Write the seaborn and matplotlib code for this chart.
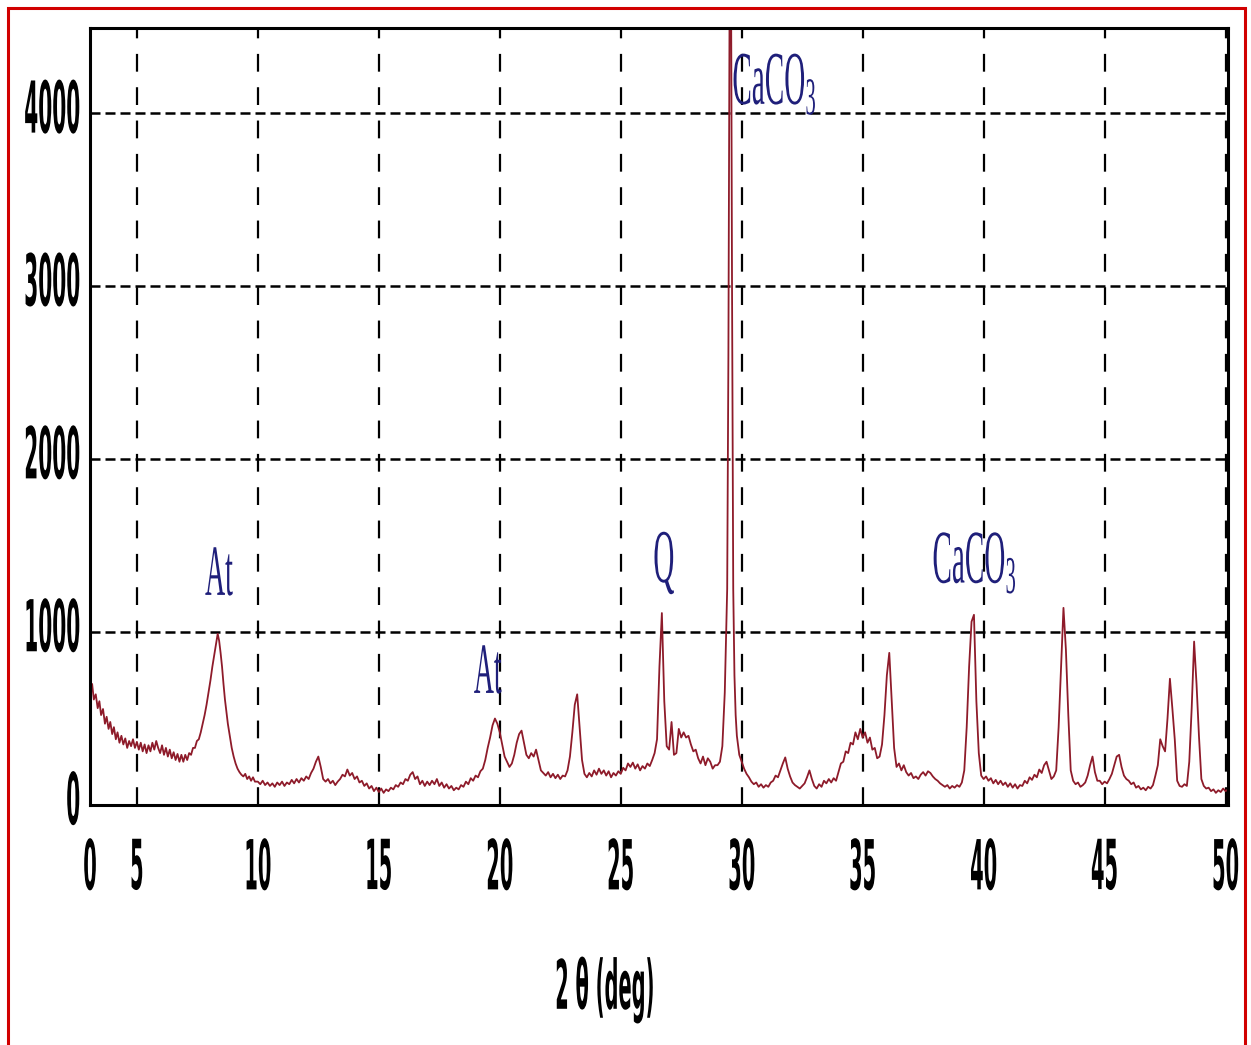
import pandas as pd
import seaborn as sns
import matplotlib.pyplot as plt
from matplotlib import patheffects
from matplotlib.transforms import Affine2D
from matplotlib.patches import Rectangle

# XRD pattern: 2-theta (deg) and intensity (counts)
two_theta = [
    3.00, 3.08, 3.15, 3.22, 3.30, 3.38, 3.45, 3.52, 3.60, 3.68,
    3.75, 3.83, 3.90, 3.98, 4.05, 4.13, 4.20, 4.28, 4.36, 4.44,
    4.52, 4.60, 4.68, 4.76, 4.84, 4.92, 5.00, 5.08, 5.16, 5.24,
    5.32, 5.40, 5.48, 5.56, 5.64, 5.72, 5.80, 5.88, 5.96, 6.04,
    6.12, 6.20, 6.28, 6.36, 6.44, 6.52, 6.60, 6.68, 6.76, 6.84,
    6.92, 7.00, 7.08, 7.16, 7.24, 7.32, 7.40, 7.48, 7.56, 7.64,
    7.72, 7.80, 7.88, 7.96, 8.04, 8.12, 8.20, 8.28, 8.34, 8.40,
    8.46, 8.52, 8.58, 8.64, 8.70, 8.76, 8.84, 8.92, 9.00, 9.08,
    9.16, 9.24, 9.32, 9.40, 9.48, 9.56, 9.64, 9.72, 9.80, 9.88,
    10.0, 10.1, 10.2, 10.3, 10.4, 10.5, 10.6, 10.7, 10.8, 10.9,
    11.0, 11.1, 11.2, 11.3, 11.4, 11.5, 11.6, 11.7, 11.8, 11.9,
    12.0, 12.1, 12.2, 12.3, 12.4, 12.5, 12.6, 12.7, 12.8, 12.9,
    13.0, 13.1, 13.2, 13.3, 13.4, 13.5, 13.6, 13.7, 13.8, 13.9,
    14.0, 14.1, 14.2, 14.3, 14.4, 14.5, 14.6, 14.7, 14.8, 14.9,
    15.0, 15.1, 15.2, 15.3, 15.4, 15.5, 15.6, 15.7, 15.8, 15.9,
    16.0, 16.1, 16.2, 16.3, 16.4, 16.5, 16.6, 16.7, 16.8, 16.9,
    17.0, 17.1, 17.2, 17.3, 17.4, 17.5, 17.6, 17.7, 17.8, 17.9,
    18.0, 18.1, 18.2, 18.3, 18.4, 18.5, 18.6, 18.7, 18.8, 18.9,
    19.0, 19.1, 19.2, 19.3, 19.4, 19.5, 19.6, 19.7, 19.8, 19.9,
    20.0, 20.1, 20.2, 20.3, 20.4, 20.5, 20.6, 20.7, 20.8, 20.9,
    21.0, 21.1, 21.2, 21.3, 21.4, 21.5, 21.6, 21.7, 21.8, 21.9,
    22.0, 22.1, 22.2, 22.3, 22.4, 22.5, 22.6, 22.7, 22.8, 22.9,
    23.0, 23.1, 23.2, 23.3, 23.4, 23.5, 23.6, 23.7, 23.8, 23.9,
    24.0, 24.1, 24.2, 24.3, 24.4, 24.5, 24.6, 24.7, 24.8, 24.9,
    25.0, 25.1, 25.2, 25.3, 25.4, 25.5, 25.6, 25.7, 25.8, 25.9,
    26.0, 26.1, 26.2, 26.3, 26.4, 26.5, 26.6, 26.7, 26.8, 26.9,
    27.0, 27.1, 27.2, 27.3, 27.4, 27.5, 27.6, 27.7, 27.8, 27.9,
    28.0, 28.1, 28.2, 28.3, 28.4, 28.5, 28.6, 28.7, 28.8, 28.9,
    29.0, 29.1, 29.2, 29.3, 29.4, 29.45, 29.5, 29.55, 29.6, 29.65,
    29.7, 29.75, 29.8, 29.9,
    30.0, 30.1, 30.2, 30.3, 30.4, 30.5, 30.6, 30.7, 30.8, 30.9,
    31.0, 31.1, 31.2, 31.3, 31.4, 31.5, 31.6, 31.7, 31.8, 31.9,
    32.0, 32.1, 32.2, 32.3, 32.4, 32.5, 32.6, 32.7, 32.8, 32.9,
    33.0, 33.1, 33.2, 33.3, 33.4, 33.5, 33.6, 33.7, 33.8, 33.9,
    34.0, 34.1, 34.2, 34.3, 34.4, 34.5, 34.6, 34.7, 34.8, 34.9,
    35.0, 35.1, 35.2, 35.3, 35.4, 35.5, 35.6, 35.7, 35.8, 35.9,
    36.0, 36.1, 36.2, 36.3, 36.4, 36.5, 36.6, 36.7, 36.8, 36.9,
    37.0, 37.1, 37.2, 37.3, 37.4, 37.5, 37.6, 37.7, 37.8, 37.9,
    38.0, 38.1, 38.2, 38.3, 38.4, 38.5, 38.6, 38.7, 38.8, 38.9,
    39.0, 39.1, 39.2, 39.3, 39.4, 39.5, 39.6, 39.7, 39.8, 39.9,
    40.0, 40.1, 40.2, 40.3, 40.4, 40.5, 40.6, 40.7, 40.8, 40.9,
    41.0, 41.1, 41.2, 41.3, 41.4, 41.5, 41.6, 41.7, 41.8, 41.9,
    42.0, 42.1, 42.2, 42.3, 42.4, 42.5, 42.6, 42.7, 42.8, 42.9,
    43.0, 43.1, 43.2, 43.3, 43.4, 43.5, 43.6, 43.7, 43.8, 43.9,
    44.0, 44.1, 44.2, 44.3, 44.4, 44.5, 44.6, 44.7, 44.8, 44.9,
    45.0, 45.1, 45.2, 45.3, 45.4, 45.5, 45.6, 45.7, 45.8, 45.9,
    46.0, 46.1, 46.2, 46.3, 46.4, 46.5, 46.6, 46.7, 46.8, 46.9,
    47.0, 47.1, 47.2, 47.3, 47.4, 47.5, 47.6, 47.7, 47.8, 47.9,
    48.0, 48.1, 48.2, 48.3, 48.4, 48.5, 48.6, 48.7, 48.8, 48.9,
    49.0, 49.1, 49.2, 49.3, 49.4, 49.5, 49.6, 49.7, 49.8, 49.9,
    50.0, 50.1,
]
intensity = [
    720, 660, 700, 610, 640, 560, 600, 520, 555, 470,
    510, 440, 480, 410, 450, 380, 420, 360, 400, 350,
    385, 330, 370, 340, 380, 330, 365, 320, 360, 310,
    350, 300, 345, 310, 360, 320, 370, 330, 300, 345,
    290, 330, 280, 320, 270, 305, 260, 295, 250, 290,
    250, 290, 260, 300, 290, 330, 330, 370, 380, 420,
    470, 520, 580, 650, 720, 800, 870, 940, 990, 950,
    880, 800, 700, 610, 540, 470, 400, 330, 280, 240,
    210, 190, 175, 165, 180, 150, 165, 140, 160, 135,
    135, 120, 140, 115, 130, 110, 125, 105, 130, 115,
    135, 110, 130, 120, 145, 125, 150, 130, 155, 140,
    165, 150, 185, 210, 250, 280, 220, 150, 135, 150,
    125, 140, 115, 135, 150, 175, 165, 205, 170, 185,
    150, 165, 130, 140, 110, 125, 95, 110, 80, 100,
    75, 95, 70, 90, 80, 100, 90, 115, 105, 130,
    120, 150, 140, 175, 190, 150, 165, 120, 140, 110,
    135, 115, 140, 120, 150, 110, 130, 100, 120, 95,
    110, 85, 100, 90, 115, 105, 135, 120, 155, 140,
    170, 160, 195, 210, 260, 330, 390, 460, 500, 470,
    420, 350, 280, 250, 220, 240, 290, 360, 410, 430,
    360, 290, 270, 300, 280, 320, 260, 200, 185, 170,
    190, 160, 180, 155, 175, 150, 170, 165, 200, 280,
    420, 580, 640, 450, 260, 180, 160, 185, 165, 200,
    175, 210, 180, 200, 170, 195, 160, 185, 170, 195,
    180, 215, 200, 240, 220, 245, 210, 235, 200, 225,
    210, 240, 225, 260, 300, 380, 800, 1110, 600, 340,
    320, 480, 290, 300, 440, 390, 420, 390, 400, 350,
    310, 320, 270, 240, 280, 230, 270, 250, 210, 230,
    230, 250, 340, 650, 1250, 2600, 4700, 5200, 3000, 1250,
    750, 520, 400, 290,
    250, 210, 180, 160, 135, 120, 130, 105, 120, 100,
    115, 105, 130, 140, 170, 160, 200, 240, 275, 210,
    165, 130, 115, 105, 95, 110, 125, 160, 200, 150,
    110, 95, 120, 105, 140, 125, 150, 130, 155, 140,
    190, 240, 250, 310, 300, 360, 350, 420, 380, 440,
    390, 420, 360, 390, 320, 330, 270, 280, 350, 520,
    750, 880, 600, 330, 220, 240, 200, 230, 190, 170,
    185, 155, 165, 150, 175, 190, 170, 195, 185, 165,
    150, 140, 125, 115, 105, 115, 95, 110, 100, 115,
    105, 130, 200, 450, 800, 1060, 1100, 600, 300, 170,
    150, 165, 140, 155, 125, 145, 120, 140, 115, 130,
    105, 125, 100, 120, 95, 115, 110, 140, 125, 160,
    145, 175, 160, 205, 185, 230, 250, 200, 150, 165,
    200, 450, 800, 1140, 900, 520, 200, 140, 120, 130,
    105, 115, 130, 170, 230, 280, 190, 140, 140, 120,
    135, 125, 150, 180, 230, 280, 290, 220, 170, 150,
    140, 120, 130, 100, 110, 90, 100, 85, 105, 95,
    115, 170, 230, 380, 340, 310, 500, 730, 560, 380,
    140, 110, 105, 120, 110, 250, 560, 945, 700, 400,
    150, 110, 95, 100, 80, 90, 70, 85, 75, 95,
    80, 90,
]
assert len(two_theta) == len(intensity)

# phase labels above the peaks
peak_labels = ["At", "At", "Q", "CaCO$_3$", "CaCO$_3$"]
label_x = [8.39, 19.5, 26.78, 31.36, 39.63]
label_y = [1215, 648, 1290, 4052, 1283]

# the scan's axis starts a bit above 3 deg but is labelled 0
x_ticks = [3.06, 5, 10, 15, 20, 25, 30, 35, 40, 45, 50]
x_ticklabels = ["0", "5", "10", "15", "20", "25", "30", "35", "40", "45", "50"]
y_ticks = [0, 1000, 2000, 3000, 4000]


class Tall(patheffects.AbstractPathEffect):
    # stretch text vertically, like the tall narrow type on the scan
    def __init__(self, sy, anchor="center", dy=0):
        super().__init__()
        self.sy = sy
        self.anchor = anchor
        self.dy = dy

    def draw_path(self, renderer, gc, tpath, affine, rgbFace=None):
        ys = tpath.vertices[:, 1]
        if len(ys) == 0:
            return
        y0 = 0 if self.anchor == "baseline" else (ys.min() + ys.max()) / 2
        stretch = Affine2D().translate(0, -y0).scale(1, self.sy).translate(0, y0)
        renderer.draw_path(gc, tpath, stretch + affine + Affine2D().translate(0, self.dy), rgbFace)


sns.set_theme(style="white")
plt.rcParams["font.family"] = ["DejaVu Sans"]
plt.rcParams["mathtext.default"] = "regular"

df = pd.DataFrame({"two_theta": two_theta, "intensity": intensity})

fig = plt.figure(figsize=(12.51, 10.45), dpi=100)
ax = fig.add_axes([0.0719, 0.2297, 0.9097, 0.7435])

sns.lineplot(data=df, x="two_theta", y="intensity", ax=ax,
             color="#8e1b2a", lw=1.3, estimator=None, sort=False)

ax.set_xlim(3.06, 50.1)
ax.set_ylim(0, 4494)
ax.set_xticks(x_ticks, x_ticklabels)
ax.set_yticks(y_ticks, [str(v) for v in y_ticks])

ax.xaxis.grid(True, color="black", ls=(0, (8, 7)), lw=1.6)
ax.yaxis.grid(True, color="black", ls=(0, (4, 2)), lw=1.8)
ax.set_axisbelow(True)

for s in ax.spines.values():
    s.set_color("black")
    s.set_linewidth(2.2)

ax.tick_params(axis="x", length=0, pad=37, labelsize=14, labelcolor="black")
ax.tick_params(axis="y", length=0, pad=7, labelsize=14.5, labelcolor="black")
for t in ax.get_xticklabels():
    t.set_fontweight("bold")
    t.set_path_effects([Tall(3.55)])
for t in ax.get_yticklabels():
    t.set_fontweight("bold")
    t.set_path_effects([Tall(3.55, dy=7)])

ax.set_xlabel("2 θ (deg)", fontsize=14, fontweight="bold", color="black")
ax.xaxis.label.set_va("center")
ax.xaxis.label.set_path_effects([Tall(3.5)])
ax.xaxis.set_label_coords(0.4525, -0.238)
ax.set_ylabel("")

for lab, x, y in zip(peak_labels, label_x, label_y):
    size = 21 if "CaCO" in lab else (21 if lab == "Q" else 20)
    ax.text(x, y, lab, fontsize=size, color="#1f1f7a",
            family=["Liberation Serif", "DejaVu Serif"],
            ha="center", va="baseline", path_effects=[Tall(2.6, anchor="baseline")])

# red frame round the whole scan (open at the bottom)
fig.add_artist(Rectangle((7.5 / 1251, -0.05), 1237 / 1251, 1.05 - 8 / 1045,
                         transform=fig.transFigure, fill=False,
                         ec="#d10000", lw=2.2))

fig.savefig("out.png", dpi=100)
plt.close(fig)
